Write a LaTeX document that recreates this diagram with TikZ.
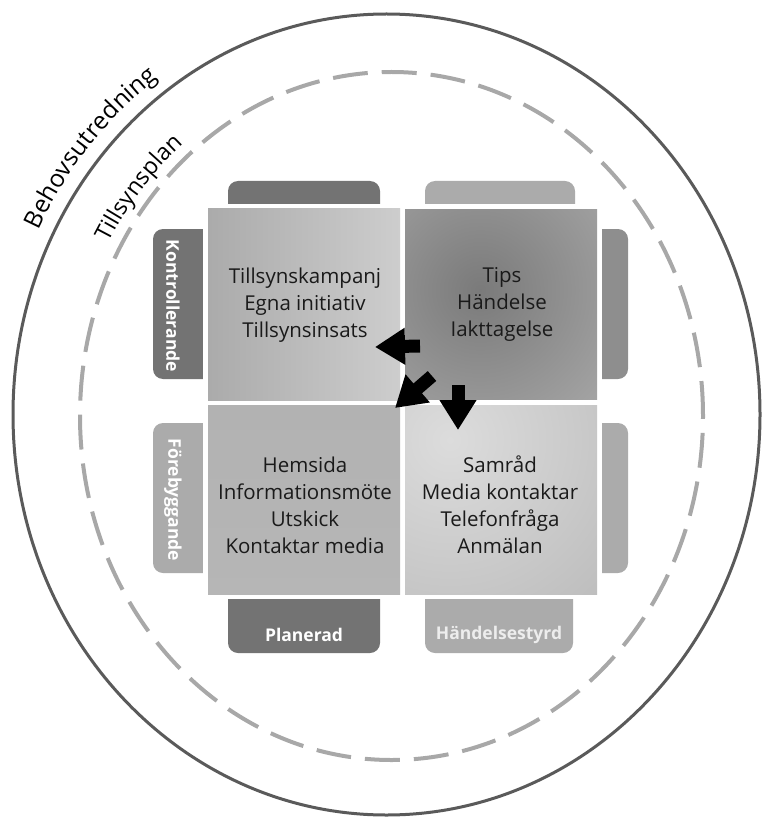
\documentclass[tikz,border=0pt]{standalone}
\usepackage{fontspec}
\setmainfont{Open Sans}
\usetikzlibrary{arrows.meta,decorations.text}
\definecolor{ringdark}{HTML}{5A5A5A}
\definecolor{ringdash}{HTML}{A8A8A8}
\definecolor{tabdark}{HTML}{737373}
\definecolor{tabmid}{HTML}{8E8E8E}
\definecolor{tablight}{HTML}{ABABAB}
\definecolor{sqbase}{HTML}{B2B2B2}
\definecolor{sqlight}{HTML}{CDCDCD}
\definecolor{sqdark}{HTML}{7A7A7A}
\definecolor{sqedge}{HTML}{BDBDBD}
\definecolor{txt}{HTML}{1A1A1A}
\tikzset{
  tabbox/.style={rounded corners=10pt},
  tabtext/.style={text=white, font=\bfseries\fontsize{17.5}{17.5}\selectfont, inner sep=0pt},
  quadtext/.style={text=txt, align=center, font=\fontsize{20.5}{27}\selectfont, inner sep=0pt},
  bigarrow/.style={draw=black, line width=13pt, -{Triangle[length=30pt,width=35pt]}},
  arctext/.style={decorate, decoration={text along path, text align=center, text color=black}}
}
\begin{document}
\begin{tikzpicture}[x=1pt,y=1pt]
\useasboundingbox (0,0) rectangle (763,-818);
% outer rings
\draw[ringdark, line width=3pt] (386.5,-414.5) ellipse [x radius=373.5, y radius=400.5];
\draw[ringdash, line width=4pt, dash pattern=on 35pt off 14pt] (391.5,-416) ellipse [x radius=311.5, y radius=344];
% curved labels
\path[arctext, decoration={text={|\fontsize{24.5}{24.5}\selectfont|Behovsutredning}}]
  ([shift={(168:388.5 and 415.5)}]386.5,-414.5) arc[start angle=168, end angle=111, x radius=388.5, y radius=415.5];
\path[arctext, decoration={text={|\fontsize{23}{23}\selectfont|Tillsynsplan}}]
  ([shift={(167:323.5 and 356)}]391.5,-416) arc[start angle=167, end angle=113, x radius=323.5, y radius=356];
% tabs
\fill[tabdark, tabbox] (228,-181) rectangle (380,-235);
\fill[tablight, tabbox] (425,-181) rectangle (575,-235);
\fill[tabdark, tabbox] (153,-229) rectangle (215,-379);
\fill[tablight, tabbox] (153,-423) rectangle (215,-573);
\fill[tabmid, tabbox] (590,-229) rectangle (628,-379);
\fill[tablight, tabbox] (590,-423) rectangle (628,-573);
\fill[tabdark, tabbox] (228,-580) rectangle (380,-653);
\fill[tablight, tabbox] (425,-580) rectangle (573,-653);
% white frame
\fill[white] (203,-204) rectangle (602,-599);
% squares
\shade[left color=sqbase!96!black, right color=sqlight] (208,-209) rectangle (400,-400);
\begin{scope}
  \clip (405,-210) rectangle (597,-399);
  \fill[sqedge] (405,-210) rectangle (597,-399);
  \shade[inner color=sqdark, outer color=sqedge] (480,-290) circle (260);
\end{scope}
\shade[top color=sqbase, bottom color=sqbase!95!white] (208,-405) rectangle (400,-594);
\begin{scope}
  \clip (405,-405) rectangle (597,-594);
  \fill[sqedge] (405,-405) rectangle (597,-594);
  \shade[inner color=sqlight!70!white, outer color=sqedge] (450,-440) circle (220);
\end{scope}
% tab labels
\node[tabtext, rotate=-90] (kontr) at (173,-306) {Kontrollerande};
\node[tabtext, rotate=-90] (foreb) at (173,-500) {Förebyggande};
\node[tabtext] (plan) at (304,-635) {Planerad};
\node[tabtext, text=white!93!black] (hand) at (499,-635) {Händelsestyrd};
% quadrant texts
\node[quadtext] (tl) at (305,-305) {Tillsynskampanj\\Egna initiativ\\Tillsynsinsats};
\node[quadtext] (tr) at (502,-304) {Tips\\Händelse\\Iakttagelse};
\node[quadtext] (bl) at (305,-505) {Hemsida\\Informationsmöte\\Utskick\\Kontaktar media};
\node[quadtext] (br) at (500,-505) {Samråd\\Media kontaktar\\Telefonfråga\\Anmälan};
% arrows
\coordinate (a1s) at (420,-346);
\coordinate (a1e) at (375,-347);
\coordinate (a2s) at (432,-376);
\coordinate (a2e) at (395,-408);
\coordinate (a3s) at (458,-385);
\coordinate (a3e) at (458,-430);
\draw[bigarrow] (a1s) -- (a1e);
\draw[bigarrow] (a2s) -- (a2e);
\draw[bigarrow] (a3s) -- (a3e);
\end{tikzpicture}
\end{document}
